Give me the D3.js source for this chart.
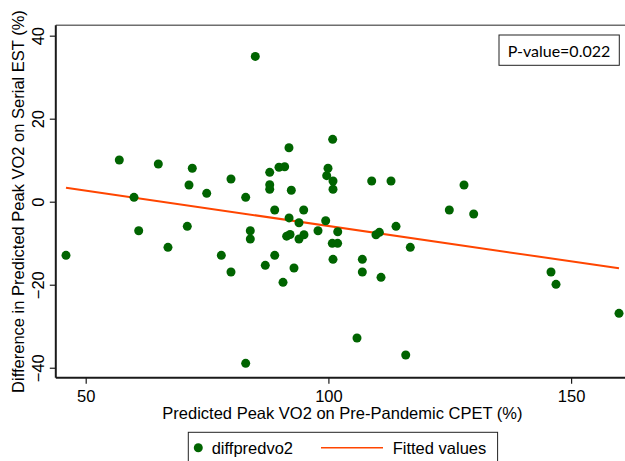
<!DOCTYPE html>
<html><head><meta charset="utf-8">
<script src="https://cdn.jsdelivr.net/npm/d3@7"></script>
<style>body{margin:0;background:#fff;}svg{display:block;}</style>
</head><body>
<script>
const xVals = [45.94,56.92,59.95,60.92,64.96,66.95,70.93,71.28,71.96,74.93,77.94,79.93,79.93,82.96,82.96,83.91,83.91,84.94,87.0,87.91,87.91,87.91,88.94,88.94,89.82,90.65,90.99,91.4,91.88,91.9,92.1,92.36,92.91,93.94,93.94,94.91,94.97,97.86,99.44,99.65,99.92,100.8,100.88,100.95,100.95,100.95,101.9,101.92,105.89,106.99,106.99,108.92,109.8,110.5,110.84,112.9,113.93,115.93,116.87,124.91,127.94,129.93,145.86,146.89,159.87];
const yVals = [-12.92,10.05,1.06,-6.99,9.08,-10.99,-5.93,4.02,8.05,2.02,-12.92,5.47,-16.94,1.06,-38.94,-6.99,-8.99,35.0,-15.33,7.08,4.10,2.99,-2.0,-12.92,8.29,-19.42,8.43,-8.3,13.0,-3.9,-7.9,2.75,-15.98,-5.06,-8.99,-2.0,-7.95,-6.99,-4.58,6.27,8.05,-10.03,15.03,4.99,2.99,-13.89,-10.03,-7.23,-32.84,-13.89,-16.94,4.99,-7.95,-7.38,-18.22,4.99,-5.93,-36.94,-10.99,-2.0,4.02,-2.96,-16.94,-19.9,-26.9];
const fitX = [45.94, 159.87];
const fitY = [3.37, -16.05];
const xTicks = [50, 100, 150];
const yTicks = [-40, -20, 0, 20, 40];
const xTitle = "Predicted Peak VO2 on Pre-Pandemic CPET (%)";
const yTitle = "Difference in Predicted Peak VO2 on Serial EST (%)";
const legendLabels = ["diffpredvo2", "Fitted values"];
const pText = "P-value=0.022";

const W = 625, H = 461;
const L = 55.8, R = 629, T = 25.3, B = 377.7;
const font = "'Liberation Sans', Arial, Helvetica, sans-serif";
const green = "#006400", orange = "#ff4500";

const svg = d3.select("body").append("svg").attr("width", W).attr("height", H);

const x = d3.scaleLinear().domain([43.84, 50 + (R - 85.7) / 4.854]).range([L, R]);
const y = d3.scaleLinear().domain([-42.4, 42.5]).range([B, T]);

// frame (top/right)
svg.append("line").attr("x1", L).attr("x2", R).attr("y1", T).attr("y2", T)
  .attr("stroke", "#6e6e6e").attr("stroke-width", 1.5);
svg.append("line").attr("x1", R).attr("x2", R).attr("y1", T).attr("y2", B)
  .attr("stroke", "#6e6e6e").attr("stroke-width", 1.5);

// axes
const xAxis = svg.append("g").attr("transform", `translate(0,${B})`)
  .call(d3.axisBottom(x).tickValues(xTicks).tickSize(6).tickSizeOuter(0).tickFormat(d3.format("d")));
const yAxis = svg.append("g").attr("transform", `translate(${L},0)`)
  .call(d3.axisLeft(y).tickValues(yTicks).tickSize(6).tickSizeOuter(0).tickFormat(d3.format("d")));
[xAxis, yAxis].forEach(g => {
  g.select(".domain").attr("stroke", "#1a1a1a").attr("stroke-width", 2);
  g.selectAll(".tick line").attr("stroke", "#1a1a1a").attr("stroke-width", 1.2);
  g.selectAll("text").attr("font-family", font).attr("font-size", 16.5).attr("fill", "#000");
});
xAxis.select(".domain").attr("d", `M${L},0H${R}`);
yAxis.select(".domain").attr("d", `M0,${B}V${T}`);
xAxis.selectAll(".tick text").attr("y", 0).attr("dy", 0)
  .attr("transform", "translate(0,24)");
yAxis.selectAll(".tick text").attr("x", null).attr("y", null).attr("dy", 0)
  .attr("text-anchor", "middle").attr("dominant-baseline", "central")
  .attr("transform", `translate(${38 - L},0) rotate(-90)`);

// titles
svg.append("text").attr("x", (L + R) / 2).attr("y", 419)
  .attr("text-anchor", "middle").attr("font-family", font).attr("font-size", 16.5)
  .text(xTitle);
svg.append("text").attr("transform", `translate(18,${(T + B) / 2}) rotate(-90)`)
  .attr("text-anchor", "middle").attr("dominant-baseline", "central")
  .attr("font-family", font).attr("font-size", 16.5).text(yTitle);

// fitted line
svg.append("path").datum(fitX.map((d, i) => [d, fitY[i]]))
  .attr("d", d3.line().x(d => x(d[0])).y(d => y(d[1])))
  .attr("stroke", orange).attr("stroke-width", 2).attr("fill", "none");

// points
svg.append("g").selectAll("circle").data(xVals.map((d, i) => [d, yVals[i]])).join("circle")
  .attr("cx", d => x(d[0])).attr("cy", d => y(d[1])).attr("r", 4.5).attr("fill", green);

// p-value box
svg.append("rect").attr("x", 499).attr("y", 35).attr("width", 120.3).attr("height", 30.3)
  .attr("fill", "#fff").attr("stroke", "#222").attr("stroke-width", 1);
svg.append("text").attr("x", 559).attr("y", 50.5).attr("text-anchor", "middle")
  .attr("dominant-baseline", "central")
  .attr("font-family", "Lato, 'Open Sans', sans-serif").attr("font-size", 16).text(pText);

// legend
svg.append("rect").attr("x", 188.3).attr("y", 432.3).attr("width", 309.3).attr("height", 40)
  .attr("fill", "#fff").attr("stroke", "#222").attr("stroke-width", 1);
svg.append("circle").attr("cx", 198.3).attr("cy", 447.7).attr("r", 4.5).attr("fill", green);
svg.append("text").attr("x", 211.7).attr("y", 447.7).attr("dominant-baseline", "central")
  .attr("font-family", font).attr("font-size", 16.5).text(legendLabels[0]);
svg.append("line").attr("x1", 321).attr("x2", 383).attr("y1", 447.7).attr("y2", 447.7)
  .attr("stroke", orange).attr("stroke-width", 1.5);
svg.append("text").attr("x", 392.7).attr("y", 447.7).attr("dominant-baseline", "central")
  .attr("font-family", font).attr("font-size", 16.5).text(legendLabels[1]);
</script>
</body></html>
